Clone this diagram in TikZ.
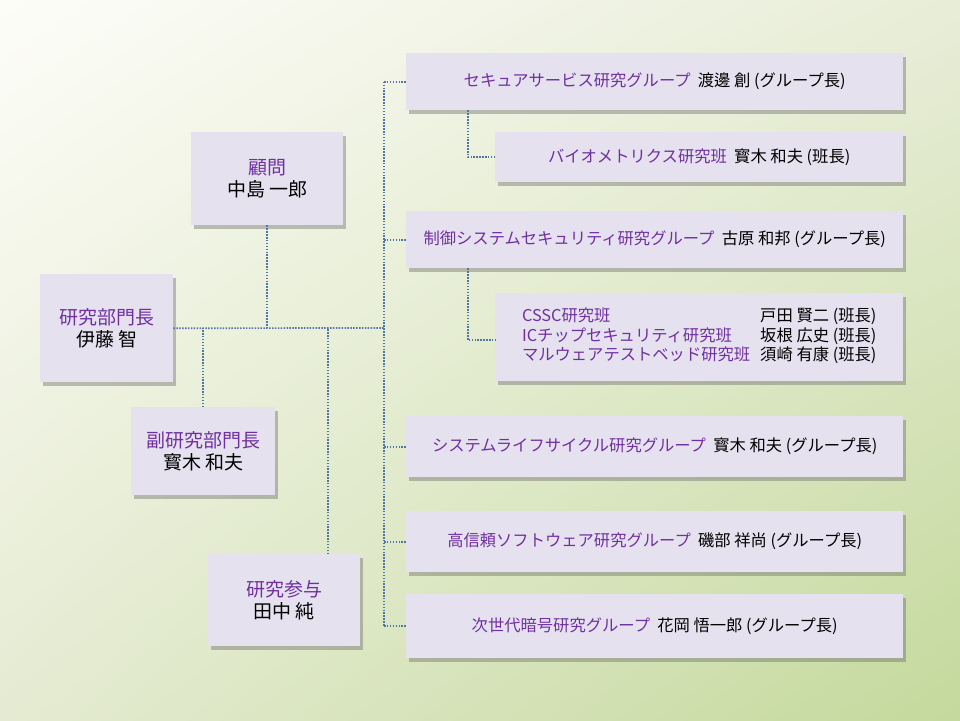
\documentclass[tikz,border=0pt]{standalone}
\usepackage{fontspec}
\setmainfont{Noto Sans CJK JP}
\usetikzlibrary{shadows,calc,shadings}
\definecolor{boxfill}{RGB}{230,225,239}
\definecolor{ttl}{RGB}{112,48,160}
\definecolor{conncol}{RGB}{80,118,165}
\definecolor{bgTL}{RGB}{253,253,248}
\definecolor{bgTR}{RGB}{232,237,216}
\definecolor{bgBL}{RGB}{229,235,210}
\definecolor{bgBR}{RGB}{196,217,156}
\tikzset{
  orgbox/.style={rectangle, fill=boxfill, draw=none, inner sep=0pt, anchor=north west, align=center,
    drop shadow={shadow xshift=3pt, shadow yshift=-4pt, opacity=0.4, fill=black!60}},
  bigtxt/.style={font=\fontsize{19}{22}\selectfont},
  grptxt/.style={font=\fontsize{16.3}{19}\selectfont},
  conn/.style={draw=conncol, line width=1.7pt, dash pattern=on 1.5pt off 1.4pt}
}
\newcommand{\ttlc}[1]{\textcolor{ttl}{#1}}
\begin{document}
\begin{tikzpicture}[x=1pt,y=-1pt]
\useasboundingbox (0,0) rectangle (960,720);
\shade[upper left=bgTL, upper right=bgTR, lower left=bgBL, lower right=bgBR] (0,0) rectangle (960,720);

% left boxes
\node[orgbox, bigtxt, minimum width=152pt, minimum height=93pt] (adv) at (191,132) {\ttlc{顧問}\\中島 一郎};
\node[orgbox, bigtxt, minimum width=133pt, minimum height=108pt] (head) at (40,274) {\ttlc{研究部門長}\\伊藤 智};
\node[orgbox, bigtxt, minimum width=144pt, minimum height=88pt] (dep) at (131,407) {\ttlc{副研究部門長}\\寳木 和夫};
\node[orgbox, bigtxt, minimum width=152pt, minimum height=92pt] (san) at (208,554) {\ttlc{研究参与}\\田中 純};

% groups
\node[orgbox, grptxt, minimum width=497pt, minimum height=57pt] (g1) at (406,53) {\ttlc{セキュアサービス研究グループ}\ \ 渡邊 創 (グループ長)};
\node[orgbox, grptxt, minimum width=408pt, minimum height=50pt] (s1) at (495,132) {\ttlc{バイオメトリクス研究班}\ \ 寳木 和夫 (班長)};
\node[orgbox, grptxt, minimum width=497pt, minimum height=57pt] (g2) at (406,211) {\ttlc{制御システムセキュリティ研究グループ}\ \ 古原 和邦 (グループ長)};
\node[orgbox, grptxt, minimum width=408pt, minimum height=88pt] (s2) at (495,293) {%
  \begin{tabular}{@{}l@{\hspace{10pt}}l@{}}
  \ttlc{CSSC研究班} & 戸田 賢二 (班長)\\
  \ttlc{ICチップセキュリティ研究班} & 坂根 広史 (班長)\\
  \ttlc{マルウェアテストベッド研究班} & 須崎 有康 (班長)
  \end{tabular}};
\node[orgbox, grptxt, minimum width=497pt, minimum height=61pt] (g3) at (406,416) {\ttlc{システムライフサイクル研究グループ}\ \ 寳木 和夫 (グループ長)};
\node[orgbox, grptxt, minimum width=497pt, minimum height=61pt] (g4) at (406,511) {\ttlc{高信頼ソフトウェア研究グループ}\ \ 磯部 祥尚 (グループ長)};
\node[orgbox, grptxt, minimum width=497pt, minimum height=64pt] (g5) at (406,594) {\ttlc{次世代暗号研究グループ}\ \ 花岡 悟一郎 (グループ長)};

% connectors
\coordinate (bus) at (384,328);
\coordinate (subx) at (468,0);
\coordinate (sanx) at ($(san.north west)+(120,0)$);
\coordinate (s2in) at ($(s2.west)+(0,3)$);
\draw[conn] (head.east) -- (bus);
\draw[conn] (adv.south) -- (adv.south |- head.east);
\draw[conn] (dep.north) -- (dep.north |- head.east);
\draw[conn] (sanx) -- (sanx |- head.east);
\draw[conn] (g1.west -| bus) -- (g5.west -| bus);
\foreach \g in {g1,g2,g3,g4,g5} {\draw[conn] (\g.west -| bus) -- (\g.west);}
\draw[conn] (g1.south -| subx) -- (s1.west -| subx) -- (s1.west);
\draw[conn] (g2.south -| subx) -- (s2in -| subx) -- (s2in);
\end{tikzpicture}
\end{document}
